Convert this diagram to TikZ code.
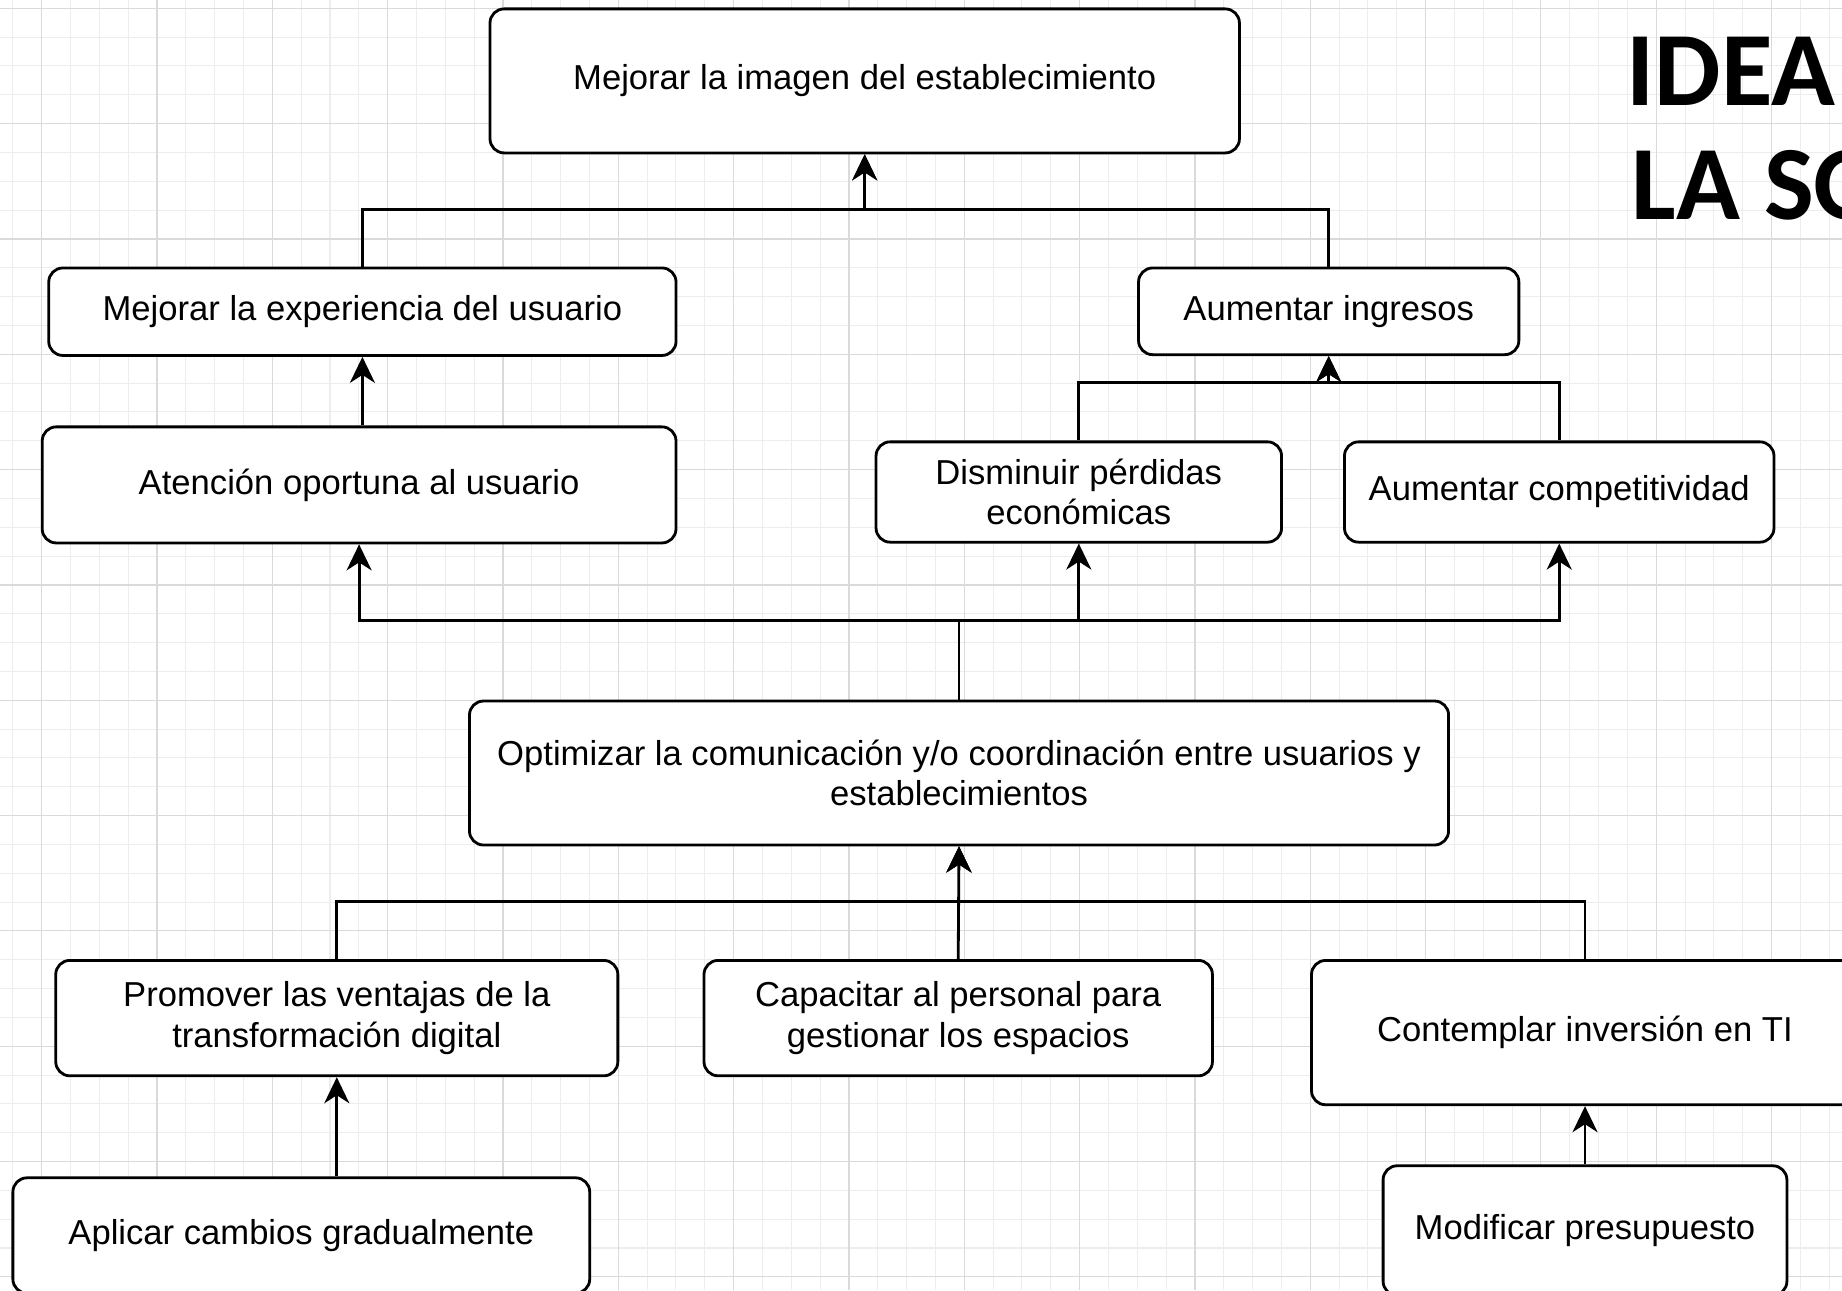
\documentclass[tikz,border=0pt]{standalone}
\usepackage{fontspec}
\setmainfont{Liberation Sans}
\newfontfamily\titlefont{Carlito}
\usetikzlibrary{positioning,arrows.meta}
\definecolor{gridminor}{RGB}{237,237,237}
\definecolor{gridmajor}{RGB}{218,218,218}

\begin{document}
\begin{tikzpicture}[
    box/.style={draw, line width=0.8pt, rounded corners=4pt, fill=white, align=center, inner sep=0pt, font=\fontsize{9.85}{11.6}\selectfont},
    arrow/.style={-{Stealth[length=2.6mm, width=2.5mm, inset=0.8mm]}, line width=0.8pt},
    titletext/.style={anchor=base west, inner sep=0pt, font=\titlefont\bfseries\fontsize{30}{36}\selectfont}
]
\useasboundingbox (0,0) rectangle (18.42,-12.90);
\clip (0,0) rectangle (18.42,-12.90);

% Grid in the background
\foreach \k in {-1,...,62} \draw[gridminor, line width=0.3pt] ({0.417+0.2883*\k},0) -- ++(0,-12.9);
\foreach \k in {0,...,44} \draw[gridminor, line width=0.3pt] (0,{-0.083-0.2883*\k}) -- ++(18.42,0);
\foreach \k in {-1,...,15} \draw[gridmajor, line width=0.35pt] ({0.417+1.1532*\k},0) -- ++(0,-12.9);
\foreach \k in {0,...,11} \draw[gridmajor, line width=0.35pt] (0,{-0.083-1.1532*\k}) -- ++(18.42,0);

% Title - top right corner, cut by the page edge
\node[titletext] (ttl1) at (16.26,-1.054) {IDEA};
\node[titletext] (ttl2) at (16.31,-2.196) {LA SO};

% Top level
\node[box, minimum width=7.494cm, minimum height=1.44cm] (imagen) at (8.647,-0.809) {Mejorar la imagen del establecimiento};

% Second level
\node[box, minimum width=6.273cm, minimum height=0.875cm] (experiencia) at (3.624,-3.117) {Mejorar la experiencia del usuario};
\node[box, minimum width=3.803cm, minimum height=0.867cm] (ingresos) at (13.287,-3.113) {Aumentar ingresos};

% Third level
\node[box, minimum width=6.338cm, minimum height=1.161cm] (atencion) at (3.591,-4.849) {Atención oportuna al usuario};
\node[box, minimum width=4.055cm, minimum height=1.003cm] (perdidas) at (10.788,-4.920) {Disminuir pérdidas\\económicas};
\node[box, minimum width=4.295cm, minimum height=1.003cm, right=0.601cm of perdidas] (competitividad) {Aumentar competitividad};

% Central objective
\node[box, minimum width=9.791cm, minimum height=1.44cm] (optimizar) at (9.590,-7.730) {Optimizar la comunicación y/o coordinación entre usuarios y\\establecimientos};

% Means
\node[box, minimum width=5.621cm, minimum height=1.154cm] (promover) at (3.368,-10.181) {Promover las ventajas de la\\transformación digital};
\node[box, minimum width=5.084cm, minimum height=1.154cm] (capacitar) at (9.582,-10.181) {Capacitar al personal para\\gestionar los espacios};
\node[box, minimum width=5.47cm, minimum height=1.443cm] (contemplar) at (15.850,-10.326) {Contemplar inversión en TI};

% Bottom level
\node[box, minimum width=5.768cm, minimum height=1.154cm] (aplicar) at (3.013,-12.355) {Aplicar cambios gradualmente};
\node[box, minimum width=4.038cm, minimum height=1.296cm, below=0.582cm of contemplar] (modificar) {Modificar presupuesto};

% Arrows to the top level
\draw[arrow] (experiencia.north) -- ++(0,0.572) -| (imagen.south);
\draw[arrow] (ingresos.north) -- ++(0,0.572) -| (imagen.south);
\draw[arrow] (atencion.north -| experiencia.south) -- (experiencia.south);
\draw[arrow] (perdidas.north) -- ++(0,0.579) -| (ingresos.south);
\draw[arrow] (competitividad.north) -- ++(0,0.579) -| (ingresos.south);

% Central objective fans out upwards
\draw[arrow] (optimizar.north) -- ++(0,0.795) -| (atencion.south);
\draw[arrow] (optimizar.north) -- ++(0,0.795) -| (perdidas.south);
\draw[arrow] (optimizar.north) -- ++(0,0.795) -| (competitividad.south);

% Means into the central objective
\draw[arrow] (promover.north) -- ++(0,0.574) -| (optimizar.south);
\draw[arrow] (capacitar.north) -- (optimizar.south);
\draw[arrow] (contemplar.north) -- ++(0,0.574) -| (optimizar.south);

% Bottom arrows
\draw[arrow] (aplicar.north -| promover.south) -- (promover.south);
\draw[arrow] (modificar) -- (contemplar);

\end{tikzpicture}
\end{document}
